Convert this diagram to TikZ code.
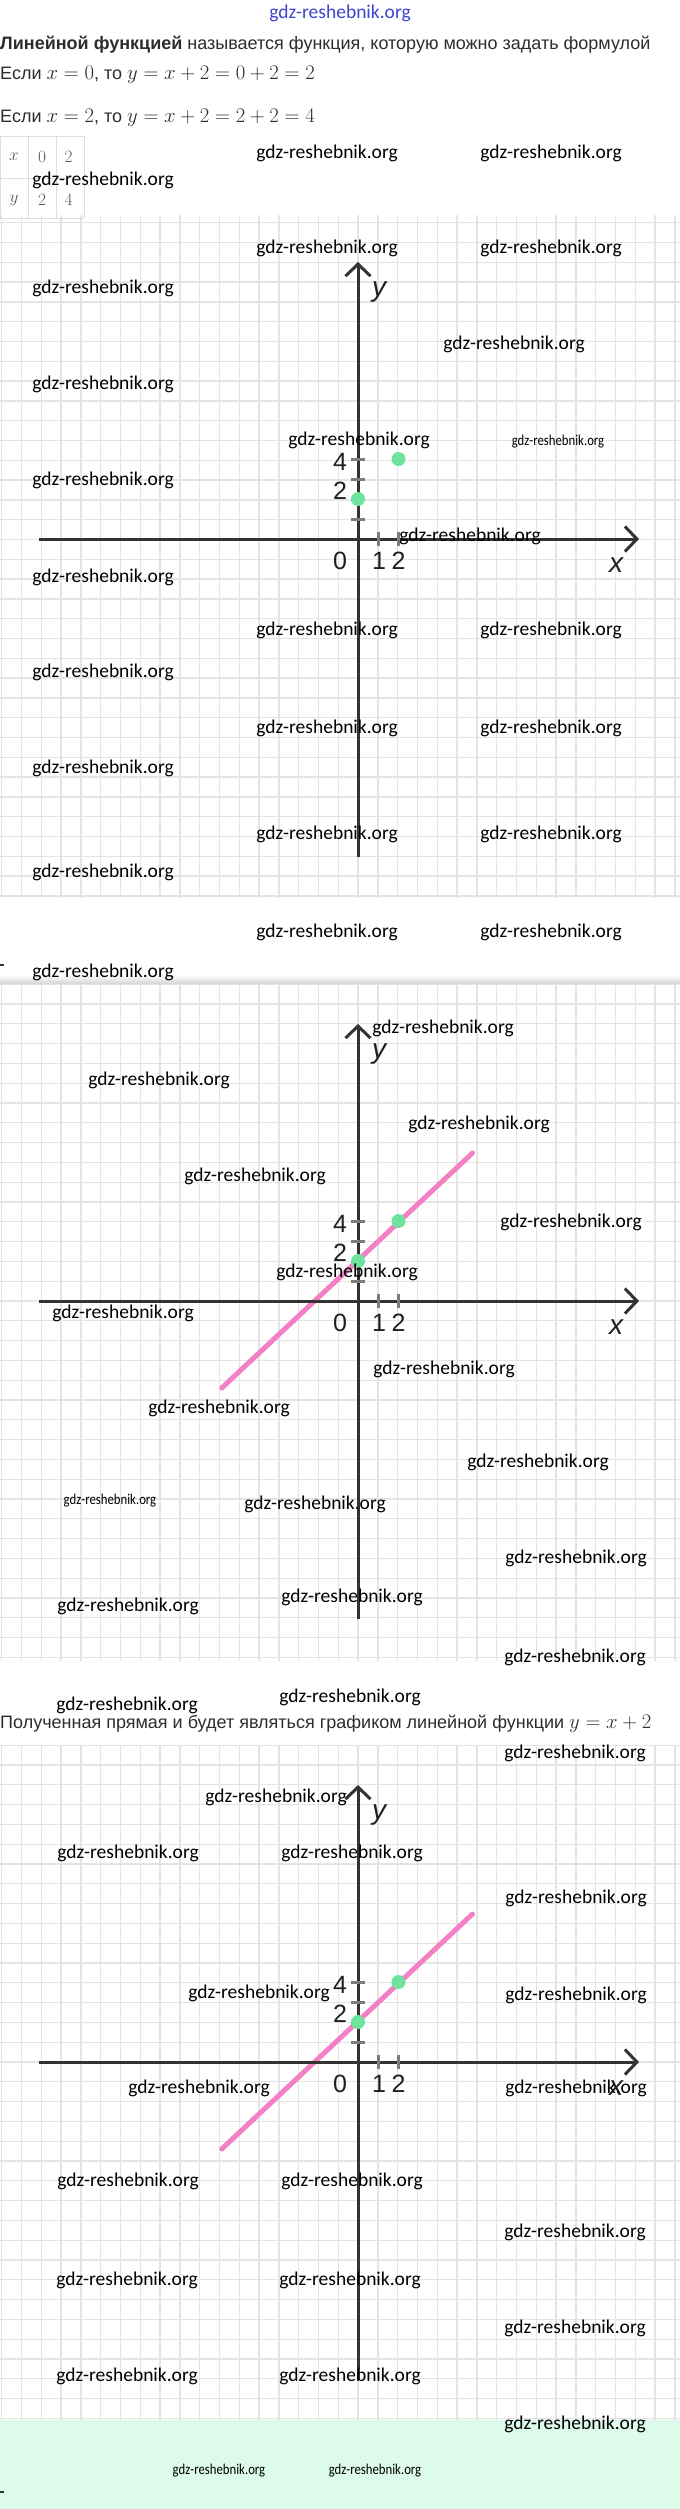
\documentclass[tikz,border=0pt]{standalone}
\usepackage{fontspec}
\setmainfont{Liberation Sans}
\newfontfamily\wmfont{Carlito}
\usetikzlibrary{arrows.meta}
\definecolor{axiscol}{RGB}{51,51,51}
\definecolor{tickcol}{RGB}{125,125,125}
\definecolor{gridcol}{RGB}{228,228,228}
\definecolor{pinkline}{RGB}{242,128,196}
\definecolor{dotgreen}{RGB}{110,227,158}
\definecolor{mint}{RGB}{221,251,235}
\definecolor{bodycol}{RGB}{45,45,45}
\definecolor{wmblue}{RGB}{60,70,205}
\definecolor{tablecol}{RGB}{222,222,222}
\newcommand{\mth}[1]{{\fontsize{22.5}{24}\selectfont$#1$}}
\begin{document}
\begin{tikzpicture}[x=1pt,y=-1pt,
  wm/.style={font=\wmfont\fontsize{19.5}{20}\selectfont, inner sep=0pt, text=black},
  wms/.style={font=\wmfont\fontsize{15}{16}\selectfont, inner sep=0pt, text=black},
  gridline/.style={draw=gridcol, line width=1.3pt},
  axis/.style={draw=axiscol, line width=3pt},
  axisarrow/.style={axis, -{Straight Barb[length=12pt,width=25pt]}},
  tickmark/.style={draw=tickcol, line width=3pt},
  num/.style={font=\fontsize{25}{25}\selectfont, text=black!88, inner sep=0pt},
  axlabel/.style={font=\itshape\fontsize{28}{28}\selectfont, text=black!88, inner sep=0pt},
  dot/.style={circle, fill=dotgreen, minimum size=14pt, inner sep=0pt},
  graphline/.style={draw=pinkline, line width=5pt, line cap=round},
  bodytext/.style={font=\fontsize{18}{20}\selectfont, text=bodycol, inner sep=0pt, anchor=west},
  tabcell/.style={font=\fontsize{18}{18}\selectfont, text=black!65, inner sep=0pt},
  tableline/.style={draw=tablecol, line width=1pt}]
\useasboundingbox (0,0) rectangle (680,2509);
\fill[white] (0,0) rectangle (680,2509);

% ---------- grids ----------
\foreach \gt/\gb in {215/898, 983/1661, 1745/2420}{
  \begin{scope}
    \clip (0,\gt) rectangle (680,\gb);
    \foreach \k in {0,...,34}{
      \draw[gridline] ({1.7+19.8*\k},\gt) -- ({1.7+19.8*\k},\gb);
    }
  \end{scope}
}
\begin{scope}
  \clip (0,215) rectangle (680,898);
  \foreach \k in {0,...,34}{ \draw[gridline] (0,{222.7+19.8*\k}) -- (680,{222.7+19.8*\k}); }
\end{scope}
\begin{scope}
  \clip (0,983) rectangle (680,1661);
  \foreach \k in {0,...,34}{ \draw[gridline] (0,{984.2+19.8*\k}) -- (680,{984.2+19.8*\k}); }
\end{scope}
\begin{scope}
  \clip (0,1745) rectangle (680,2420);
  \foreach \k in {0,...,34}{ \draw[gridline] (0,{1745.2+19.8*\k}) -- (680,{1745.2+19.8*\k}); }
\end{scope}
\shade[top color=white, bottom color=gray!30] (0,975) rectangle (680,983);
\fill[mint] (0,2420) rectangle (680,2509);

% ---------- texts ----------
\node[wm, text=wmblue] (wtop) at (340,13) {gdz-reshebnik.org};
\node[bodytext] (t1) at (0,45) {\textbf{Линейной функцией} называется функция, которую можно задать формулой};
\node[bodytext] (t2) at (0,75) {Если \mth{x=0}, то \mth{y=x+2=0+2=2}};
\node[bodytext] (t3) at (0,118) {Если \mth{x=2}, то \mth{y=x+2=2+2=4}};
\node[bodytext] (t4) at (0,1724) {Полученная прямая и будет являться графиком линейной функции \mth{y=x+2}};

% table
\draw[tableline] (0,136) -- (84,136);
\draw[tableline] (0,178) -- (84,178);
\draw[tableline] (0,218) -- (84,218);
\draw[tableline] (0.5,136) -- (0.5,218);
\draw[tableline] (28,136) -- (28,218);
\draw[tableline] (56,136) -- (56,218);
\draw[tableline] (84,136) -- (84,218);
\node[tabcell] (cx) at (14,157) {$x$};
\node[tabcell] (c0) at (42,157) {$0$};
\node[tabcell] (c2) at (68.5,157) {$2$};
\node[tabcell] (cy) at (14,200) {$y$};
\node[tabcell] (c2b) at (42,200) {$2$};
\node[tabcell] (c4) at (68.5,200) {$4$};

% ---------- panels ----------
\foreach \A/\p/\ln in {539/a/0, 1301/b/1, 2062/c/1}{
  \coordinate (xl\p) at (39,\A);
  \coordinate (xr\p) at (639,\A);
  \coordinate (yt\p) at (358,\A-277);
  \coordinate (yb\p) at (358,\A+318);
  \ifnum\ln=1
    \coordinate (la\p) at (221.7,\A+87);
    \coordinate (lb\p) at (472.5,\A-148);
    \draw[graphline] (la\p) -- (lb\p);
  \fi
  \draw[axisarrow] (xl\p) -- (xr\p);
  \draw[axisarrow] (yb\p) -- (yt\p);
  \foreach \u in {1,2,3,4}{
    \draw[tickmark] (351,\A-20*\u) -- (365,\A-20*\u);
  }
  \foreach \u in {1,2}{
    \draw[tickmark] (358+20*\u,\A-7) -- (358+20*\u,\A+7);
  }
  \node[dot] (da\p) at (358,\A-40) {};
  \node[dot] (db\p) at (398.5,\A-80) {};
  \node[num] (n4\p) at (340,\A-77) {4};
  \node[num] (n2\p) at (340,\A-48) {2};
  \node[num] (n0\p) at (340,\A+22) {0};
  \node[num] (n1x\p) at (379,\A+22) {1};
  \node[num] (n2x\p) at (398.5,\A+22) {2};
  \node[axlabel] (ly\p) at (379,\A-247) {y};
  \node[axlabel] (lx\p) at (616,\A+26) {x};
}

% small marks at the left edge
\draw[axiscol, line width=1.2pt] (0,965) -- (4,965);
\draw[axiscol, line width=1.2pt] (0,2492) -- (4,2492);

% ---------- watermarks ----------
\foreach \wx/\wy [count=\i] in {
  327/153, 551/153, 103/180,
  327/248, 551/248, 103/288, 514/344, 103/384, 359/440, 103/480, 470/536, 103/577,
  327/630, 551/630, 103/672, 327/728, 551/728, 103/768, 327/834, 551/834, 103/872,
  327/932, 551/932, 103/972,
  443/1028, 159/1080, 479/1124, 255/1176, 571/1222, 347/1272, 123/1313, 444/1369,
  219/1408, 538/1462, 315/1504, 576/1558, 352/1597, 128/1606, 575/1657, 350/1697,
  127/1705, 575/1753,
  276/1797, 128/1853, 352/1853, 576/1898, 259/1993, 576/1995, 199/2088, 576/2088,
  128/2181, 352/2181, 575/2232, 127/2280, 350/2280, 575/2328, 127/2376, 350/2376,
  575/2424}{
  \node[wm] (w\i) at (\wx,\wy) {gdz-reshebnik.org};
}
\foreach \wx/\wy [count=\i] in {558/442, 110/1501, 219/2471, 375/2471}{
  \node[wms] (ws\i) at (\wx,\wy) {\scalebox{0.85}[1]{gdz-reshebnik.org}};
}
\end{tikzpicture}
\end{document}
